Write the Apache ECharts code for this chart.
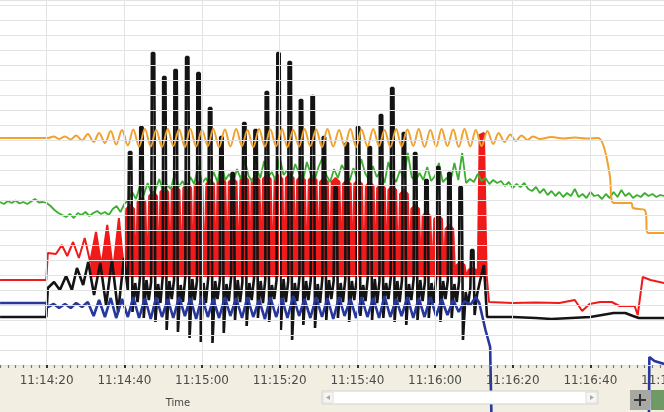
<!DOCTYPE html>
<html>
<head>
<meta charset="utf-8">
<script src="https://cdn.jsdelivr.net/npm/echarts@6/dist/echarts.min.js"></script>
<style>
html, body { margin: 0; padding: 0; background: #ffffff; }
#chart { width: 664px; height: 412px; }
</style>
</head>
<body>
<div id="chart"></div>
<script>
// Trend recording: time in seconds after 11:14:00, levels in display units (0-73).

const orangeData = [
  [8,45.4],[20.3,45.4],[21.8,45.7],[23.2,45.2],[24.7,45.7],[26.2,45.1],[27.6,45.9],[29.1,44.9],[30.6,46.2],
  [32.1,44.6],[33.5,46.4],[35.0,44.4],[36.5,46.8],[37.9,44.1],[39.4,47.0],[40.9,43.9],[42.3,47.1],[43.8,43.7],
  [45.3,47.2],[46.8,43.7],[48.2,47.0],[49.7,43.6],[51.2,47.2],[52.6,43.8],[54.1,47.1],[55.6,43.6],[57.0,47.2],
  [58.5,43.7],[60.0,47.0],[61.5,43.8],[62.9,47.2],[64.4,43.6],[65.9,47.1],[67.3,43.7],[68.8,47.2],[70.3,43.8],
  [71.7,47.0],[73.2,43.6],[74.7,47.2],[76.2,43.7],[77.6,47.1],[79.1,43.8],[80.6,47.2],[82.0,43.6],[83.5,47.0],
  [85.0,43.7],[86.4,47.2],[87.9,43.8],[89.4,47.1],[90.9,43.6],[92.3,47.2],[93.8,43.7],[95.3,47.0],[96.7,43.8],
  [98.2,47.2],[99.7,43.6],[101.1,47.1],[102.6,43.7],[104.1,47.2],[105.6,43.8],[107.0,47.0],[108.5,43.6],
  [110.0,47.2],[111.4,43.7],[112.9,47.1],[114.4,43.8],[115.8,47.2],[117.3,43.6],[118.8,47.0],[120.3,43.7],
  [121.7,47.2],[123.2,43.8],[124.7,47.1],[126.1,43.6],[127.6,47.2],[129.1,43.7],[130.5,47.0],[132.0,43.8],
  [133.5,46.8],[135.0,44.2],[136.4,46.4],[137.9,44.6],[139.4,46.1],[140.8,44.8],[142.3,45.9],[143.8,45.0],
  [145.2,45.7],[147.0,45.2],[150.0,45.6],[153.0,45.3],[156.0,45.5],[159.0,45.3],[162.0,45.4],[163.5,43.6],
  [165.0,38.0],[166.0,32.4],[170.5,32.4],[171.0,31.4],[174.0,31.0],[174.9,26.4],[179,26.4]
];

const greenData = [
  [8,32.6],[9,32.2],[10,32.8],[11,32.4],[12,32.9],[13,32.3],[14,32.6],[15,32.2],[16,32.7],[17,33.2],[18,32.5],
  [19,32.6],[20,32.4],[21,31.8],[22,31.0],[23,30.4],[24,30.0],[25,29.6],[26,30.2],[27,29.4],[28,30.4],[29,30.0],
  [30,30.6],[31,29.8],[32,30.4],[33,30.8],[34,30.2],[35,30.6],[36,30.0],[37,31.2],[38,31.8],[39,30.6],[40,32.2],
  [41,33.0],[42,34.6],[43,33.2],[44,35.8],[45,34.0],[46,36.4],[47,34.2],[48,35.0],[49,37.2],[50,34.6],[51,36.0],
  [52,35.2],[53,38.4],[54,35.6],[55,36.8],[56,35.0],[57,37.6],[58,36.2],[59,39.8],[60,36.4],[61,37.4],[62,35.8],
  [63,38.6],[64,36.6],[65,40.4],[66,37.0],[67,38.2],[68,36.4],[69,39.2],[70,37.2],[71,41.0],[72,37.8],[73,36.6],
  [74,39.4],[75,37.4],[76,40.8],[77,37.6],[78,38.6],[79,36.8],[80,41.6],[81,38.0],[82,39.0],[83,37.2],[84,40.2],
  [85,38.4],[86,36.8],[87,40.6],[88,38.2],[89,37.0],[90,39.6],[91,41.4],[92,38.0],[93,36.6],[94,39.2],[95,37.4],
  [96,40.0],[97,38.6],[98,36.8],[99,39.4],[100,37.2],[101,41.2],[102,38.4],[103,37.0],[104,39.8],[105,37.6],
  [106,38.8],[107,36.4],[108,40.6],[109,37.8],[110,36.6],[111,39.0],[112,37.4],[113,42.4],[114,37.6],[115,36.8],
  [116,38.4],[117,37.0],[118,39.6],[119,36.8],[120,37.8],[121,40.4],[122,36.6],[123,37.4],[124,36.8],[125,40.4],
  [126,37.0],[127,42.4],[128,36.4],[129,37.2],[130,36.6],[131,38.2],[132,36.8],[133,37.4],[134,36.2],[135,37.0],
  [136,36.4],[137,36.8],[138,35.8],[139,36.6],[140,35.4],[141,36.2],[142,35.6],[143,36.4],[144,35.2],[145,34.8],
  [146,35.6],[147,34.4],[148,35.2],[149,34.0],[150,34.8],[151,33.8],[152,34.6],[153,33.6],[154,34.4],[155,33.8],
  [156,35.2],[157,33.6],[158,34.2],[159,33.4],[160,34.6],[161,33.8],[162,34.0],[163,33.2],[164,34.2],[165,33.4],
  [166,34.6],[167,33.6],[168,35.0],[169,33.8],[170,34.4],[171,33.4],[172,34.0],[173,33.6],[174,34.4],[175,33.8],
  [176,34.2],[177,33.6],[178,34.0],[179,33.8]
];

const redData = [
  [8,17.0],[19.9,17.0],[20.3,22.4],[22.4,22.2],[23.9,24.0],[25.3,21.8],[26.8,24.6],[28.3,21.4],[29.8,25.4],
  [31.2,20.6],[32.7,26.6],[34.1,19.8],[35.6,28.0],[37.1,19.0],[38.6,29.4],[40.0,18.2],
  [40.5,31.2],[41.5,32.0],[42.5,31.2],[43.0,17.6],
  [43.4,32.6],[44.4,33.4],[45.4,32.6],[45.9,17.6],
  [46.4,33.8],[47.4,34.6],[48.4,33.8],[48.9,17.6],
  [49.3,34.6],[50.3,35.4],[51.3,34.6],[51.8,17.6],
  [52.2,35.0],[53.2,35.8],[54.2,35.0],[54.7,17.6],
  [55.2,35.4],[56.2,36.2],[57.2,35.4],[57.7,17.6],
  [58.1,35.8],[59.1,36.6],[60.1,35.8],[60.6,17.6],
  [61.1,36.2],[62.1,37.0],[63.1,36.2],[63.6,17.6],
  [64.0,36.6],[65.0,37.4],[66.0,36.6],[66.5,17.6],
  [66.9,36.6],[67.9,37.4],[68.9,36.6],[69.4,17.6],
  [69.9,37.0],[70.9,37.8],[71.9,37.0],[72.4,17.6],
  [72.8,37.0],[73.8,37.8],[74.8,37.0],[75.3,17.6],
  [75.7,37.2],[76.7,38.0],[77.7,37.2],[78.2,17.6],
  [78.7,37.2],[79.7,38.0],[80.7,37.2],[81.2,17.6],
  [81.6,37.4],[82.6,38.2],[83.6,37.4],[84.1,17.6],
  [84.5,37.0],[85.5,37.8],[86.5,37.0],[87.0,17.6],
  [87.5,37.0],[88.5,37.8],[89.5,37.0],[90.0,17.6],
  [90.4,36.6],[91.4,37.4],[92.4,36.6],[92.9,17.6],
  [93.4,36.6],[94.4,37.4],[95.4,36.6],[95.9,17.6],
  [96.3,36.2],[97.3,37.0],[98.3,36.2],[98.8,17.6],
  [99.2,36.2],[100.2,37.0],[101.2,36.2],[101.7,17.6],
  [102.2,35.8],[103.2,36.6],[104.2,35.8],[104.7,17.6],
  [105.1,35.4],[106.1,36.2],[107.1,35.4],[107.6,17.6],
  [108.0,35.0],[109.0,35.8],[110.0,35.0],[110.5,17.6],
  [111.0,34.2],[112.0,35.0],[113.0,34.2],[113.5,17.6],
  [113.9,31.2],[114.9,32.0],[115.9,31.2],[116.4,17.6],
  [116.8,29.8],[117.8,30.6],[118.8,29.8],[119.3,17.6],
  [119.8,29.2],[120.8,30.0],[121.8,29.2],[122.3,17.6],
  [122.7,27.2],[123.7,28.0],[124.7,27.2],[125.2,17.6],
  [125.6,20.0],[126.6,20.6],[127.6,20.0],[128.1,17.6],
  [128.6,19.0],[129.6,19.4],[130.6,19.0],[131.0,17.6],
  [131.5,46.0],[132.6,46.4],[133.3,18.0],[133.9,12.6],
  [140,12.4],[146,12.5],[152,12.4],[156.0,13.0],[157.9,10.8],[159.8,12.2],[162.5,12.6],[165.5,12.6],
  [167.5,11.8],[171.4,11.8],[172.2,10.0],[173.5,17.6],[175.5,17.0],[179,16.4]
];

const blackData = [
  [8,9.6],[19.9,9.6],[20.3,15.4],[21.9,16.6],[23.4,15.0],[25.0,17.8],[26.5,15.0],[27.8,19.4],[29.4,16.0],
  [30.7,20.6],[32.2,14.0],[33.8,20.4],[35.3,12.0],[36.8,21.0],[38.4,10.6],[39.9,21.4],[40.9,15.0],
  [41.2,42.6],[41.8,42.6],[42.1,10.6],[42.8,16.4],[43.4,12.6],[44.0,17.2],
  [44.1,47.6],[44.7,47.6],[45.0,9.4],[45.7,17.0],[46.3,13.0],[46.9,16.6],
  [47.1,62.4],[47.7,62.4],[48.0,8.6],[48.7,16.2],[49.3,12.4],[49.9,17.8],
  [50.0,57.6],[50.6,57.6],[50.9,7.0],[51.6,16.8],[52.2,13.2],[52.8,17.0],
  [52.9,59.0],[53.5,59.0],[53.8,6.6],[54.5,16.0],[55.1,12.6],[55.7,17.6],
  [55.9,61.6],[56.5,61.6],[56.8,5.4],[57.5,17.2],[58.1,13.0],[58.7,16.8],
  [58.8,58.4],[59.4,58.4],[59.7,4.6],[60.4,16.4],[61.0,12.4],[61.6,17.4],
  [61.8,51.4],[62.4,51.4],[62.7,4.4],[63.4,16.8],[64.0,13.2],[64.6,17.0],
  [64.7,45.6],[65.3,45.6],[65.6,6.4],[66.3,16.2],[66.9,12.8],[67.5,17.6],
  [67.6,38.4],[68.2,38.4],[68.5,9.0],[69.2,17.0],[69.8,12.6],[70.4,16.6],
  [70.6,48.4],[71.2,48.4],[71.5,7.8],[72.2,16.4],[72.8,13.0],[73.4,17.4],
  [73.5,47.0],[74.1,47.0],[74.4,9.4],[75.1,16.8],[75.7,12.4],[76.3,17.2],
  [76.4,54.6],[77.0,54.6],[77.3,8.6],[78.0,16.0],[78.6,13.2],[79.2,17.0],
  [79.4,62.4],[80.0,62.4],[80.3,7.0],[81.0,17.2],[81.6,12.6],[82.2,16.8],
  [82.3,60.6],[82.9,60.6],[83.2,5.0],[83.9,16.4],[84.5,12.8],[85.1,17.6],
  [85.2,53.0],[85.8,53.0],[86.1,8.0],[86.8,16.8],[87.4,13.0],[88.0,17.0],
  [88.2,53.8],[88.8,53.8],[89.1,7.4],[89.8,16.2],[90.4,12.4],[91.0,17.4],
  [91.1,45.6],[91.7,45.6],[92.0,9.0],[92.7,17.0],[93.3,13.2],[93.9,16.8],
  [94.1,35.6],[94.7,35.6],[95.0,9.4],[95.7,16.4],[96.3,12.6],[96.9,17.2],
  [97.0,44.4],[97.6,44.4],[97.9,8.6],[98.6,16.8],[99.2,13.0],[99.8,17.0],
  [99.9,47.6],[100.5,47.6],[100.8,9.8],[101.5,16.0],[102.1,12.8],[102.7,17.6],
  [102.9,43.6],[103.5,43.6],[103.8,9.0],[104.5,17.2],[105.1,12.4],[105.7,16.8],
  [105.8,50.0],[106.4,50.0],[106.7,9.4],[107.4,16.4],[108.0,13.2],[108.6,17.4],
  [108.7,55.4],[109.3,55.4],[109.6,8.6],[110.3,16.8],[110.9,12.6],[111.5,17.0],
  [111.7,46.4],[112.3,46.4],[112.6,8.0],[113.3,16.2],[113.9,13.0],[114.5,17.2],
  [114.6,42.4],[115.2,42.4],[115.5,9.0],[116.2,17.0],[116.8,12.8],[117.4,16.6],
  [117.5,37.0],[118.1,37.0],[118.4,9.4],[119.1,16.4],[119.7,12.4],[120.3,17.4],
  [120.5,39.6],[121.1,39.6],[121.4,8.6],[122.1,16.8],[122.7,13.2],[123.3,17.0],
  [123.4,38.4],[124.0,38.4],[124.3,9.4],[125.0,16.2],[125.6,12.6],[126.2,16.8],
  [126.3,35.6],[126.9,35.6],[127.2,5.0],[127.9,14.6],[128.5,12.0],[129.1,15.4],
  [129.3,23.0],[129.9,23.0],[130.2,10.0],[130.8,14.0],[131.5,16.5],[132.6,20.0],[133.4,9.6],
  [140,9.6],[146,9.4],[150,9.2],[155,9.4],[160,9.6],[163,10.0],[166,10.4],[169,10.4],[171,9.8],[172.5,9.4],[179,9.4]
];

const blueData = [
  [8,12.4],[19.9,12.4],[20.3,11.6],[21.8,12.2],[23.2,11.4],[24.7,12.2],[26.2,11.4],[27.6,12.4],[29.1,11.6],
  [30.6,12.6],[32.1,9.8],[33.5,13.0],[35.0,9.6],[36.5,13.4],[37.9,9.4],[39.4,13.2],[40.9,9.6],[42.3,13.6],
  [43.8,9.4],[45.3,13.4],[46.8,9.2],[48.2,13.6],[49.7,9.6],[51.2,13.2],[52.6,9.4],[54.1,13.6],[55.6,9.8],
  [57.0,13.4],[58.5,9.2],[60.0,13.8],[61.5,9.6],[62.9,13.2],[64.4,9.4],[65.9,13.6],[67.3,9.8],[68.8,13.4],
  [70.3,9.4],[71.7,13.6],[73.2,9.6],[74.7,13.0],[76.2,9.2],[77.6,13.6],[79.1,9.6],[80.6,13.4],[82.0,9.4],
  [83.5,13.8],[85.0,9.8],[86.4,13.2],[87.9,9.4],[89.4,13.6],[90.9,9.6],[92.3,13.4],[93.8,9.2],[95.3,13.6],
  [96.7,9.8],[98.2,13.2],[99.7,9.4],[101.1,13.6],[102.6,9.6],[104.1,13.4],[105.6,9.4],[107.0,13.8],[108.5,9.6],
  [110.0,13.2],[111.4,9.8],[112.9,13.6],[114.4,9.4],[115.8,13.4],[117.3,9.6],[118.8,13.6],[120.3,9.8],
  [121.7,13.2],[123.2,10.0],[124.7,13.0],[126.1,10.6],[127.6,12.8],[129.1,12.0],[130.5,13.6],[131.4,12.4],
  [133.0,7.0],[134.2,3.6],[135.0,-30],[174.9,-30],[175.2,1.6],[176.5,0.8],[179,0.2]
];

// seconds after 11:14:00 -> clock text
function clockLabel(sec) {
  const m = 14 + Math.floor(sec / 60);
  const s = Math.round(sec - Math.floor(sec / 60) * 60);
  return '11:' + m + ':' + String(s).padStart(2, '0');
}

const COLORS = {
  orange: '#f2a12c',
  green: '#3cae30',
  red: '#f01a1a',
  black: '#141414',
  blue: '#27379c',
  grid: '#e3e3e3',
  strip: '#f2efe2'
};

const chart = echarts.init(document.getElementById('chart'), null, { renderer: 'canvas' });

const lineBase = { type: 'line', showSymbol: false, symbol: 'none', silent: true, animation: false };

chart.setOption({
  animation: false,
  backgroundColor: '#ffffff',
  grid: { left: -31, right: -4, top: 0, bottom: 47, containLabel: false, outerBoundsMode: 'none' },
  xAxis: {
    type: 'value', min: 0, max: 180, interval: 20, z: 10,
    axisLine: { show: false },
    axisTick: { show: true, length: 3, lineStyle: { color: '#333', width: 2 } },
    minorTick: { show: true, splitNumber: 10, length: 3, lineStyle: { color: '#777', width: 1.2 } },
    minorSplitLine: { show: false },
    splitLine: { show: true, lineStyle: { color: COLORS.grid, width: 1 } },
    axisLabel: {
      show: true, margin: 10, color: '#4a4a4a', fontSize: 12, fontFamily: 'DejaVu Sans',
      showMinLabel: false, showMaxLabel: true, hideOverlap: false,
      formatter: clockLabel
    }
  },
  yAxis: {
    type: 'value', min: 0, max: 73, interval: 3, z: 10,
    axisLine: { show: false }, axisTick: { show: false }, axisLabel: { show: false },
    splitLine: { show: true, lineStyle: { color: COLORS.grid, width: 1 } }
  },
  graphic: [
    { type: 'rect', z: 1, shape: { x: 0, y: 365, width: 664, height: 47 }, style: { fill: COLORS.strip } },
    { type: 'text', z: 11, x: 178, y: 403, style: { text: 'Time', fill: '#444', font: '10px "DejaVu Sans"', align: 'center', verticalAlign: 'middle' } },
    { type: 'rect', z: 11, shape: { x: 322, y: 391, width: 276, height: 13 }, style: { fill: '#ffffff', stroke: '#d4d2c8', lineWidth: 1 } },
    { type: 'rect', z: 12, shape: { x: 323, y: 392, width: 10, height: 11 }, style: { fill: '#f6f6f2', stroke: '#dddddd' } },
    { type: 'polygon', z: 13, shape: { points: [[326, 397.5], [330, 395], [330, 400]] }, style: { fill: '#aaaaaa' } },
    { type: 'rect', z: 12, shape: { x: 586, y: 392, width: 11, height: 11 }, style: { fill: '#f6f6f2', stroke: '#dddddd' } },
    { type: 'polygon', z: 13, shape: { points: [[594, 397.5], [590, 395], [590, 400]] }, style: { fill: '#aaaaaa' } },
    { type: 'rect', z: 11, shape: { x: 630, y: 390, width: 20, height: 20 }, style: { fill: '#a8a8a2' } },
    { type: 'line', z: 12, shape: { x1: 634, y1: 400, x2: 646, y2: 400 }, style: { stroke: '#333', lineWidth: 2 } },
    { type: 'line', z: 12, shape: { x1: 640, y1: 394, x2: 640, y2: 406 }, style: { stroke: '#333', lineWidth: 2 } },
    { type: 'rect', z: 11, shape: { x: 651, y: 390, width: 13, height: 20 }, style: { fill: '#6f9a63' } }
  ],
  series: [
    Object.assign({}, lineBase, {
      name: 'red band', z: 2,
      data: redData.filter(p => p[0] >= 31.2 && p[0] <= 133.3),
      lineStyle: { width: 0 },
      areaStyle: { color: COLORS.red, opacity: 1, origin: 17.6 }
    }),
    Object.assign({}, lineBase, { name: 'red', z: 3, data: redData, lineStyle: { color: COLORS.red, width: 2 } }),
    Object.assign({}, lineBase, { name: 'green', z: 4, data: greenData, lineStyle: { color: COLORS.green, width: 1.8 } }),
    Object.assign({}, lineBase, { name: 'black', z: 5, data: blackData, lineStyle: { color: COLORS.black, width: 2.6 } }),
    Object.assign({}, lineBase, { name: 'blue', z: 6, clip: false, data: blueData, lineStyle: { color: COLORS.blue, width: 2.6 } }),
    Object.assign({}, lineBase, { name: 'orange', z: 7, smooth: 0.35, data: orangeData, lineStyle: { color: COLORS.orange, width: 2 } })
  ]
});
</script>
</body>
</html>
